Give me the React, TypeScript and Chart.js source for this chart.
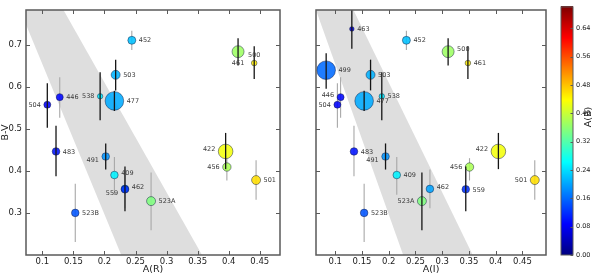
import React, { useEffect, useRef } from "react";
import { Chart, registerables } from "chart.js";

Chart.register(...registerables);

// ---- data ----
const ids = ["452", "503", "538", "477", "504", "446", "483", "491", "409", "462", "559", "523A", "523B", "422", "456", "501", "500", "461", "463", "499"];
const bv = [0.71, 0.628, 0.577, 0.566, 0.557, 0.575, 0.446, 0.434, 0.39, 0.357, 0.356, 0.328, 0.3, 0.446, 0.409, 0.378, 0.683, 0.656, 0.737, 0.639];
const bvLo = [0.687, 0.591, 0.52, 0.542, 0.502, 0.526, 0.387, 0.403, 0.343, 0.311, 0.304, 0.259, 0.231, 0.404, 0.377, 0.331, 0.65, 0.618, 0.69, 0.595];
const bvHi = [0.733, 0.664, 0.634, 0.59, 0.608, 0.622, 0.507, 0.465, 0.433, 0.403, 0.41, 0.396, 0.369, 0.49, 0.43, 0.425, 0.715, 0.696, 0.79, 0.679];
const aR = [0.244, 0.218, 0.193, 0.216, 0.108, 0.128, 0.122, 0.202, 0.216, 0.233, 0.233, 0.275, 0.153, 0.395, 0.397, 0.444, 0.415, 0.441, null, null];
const aI = [0.233, 0.166, 0.187, 0.154, 0.104, 0.11, 0.135, 0.194, 0.215, 0.277, 0.344, 0.262, 0.154, 0.405, 0.351, 0.473, 0.311, 0.348, 0.131, 0.083];
const aB = [0.22, 0.21, 0.25, 0.205, 0.085, 0.09, 0.1, 0.19, 0.255, 0.2, 0.12, 0.35, 0.145, 0.43, 0.38, 0.46, 0.37, 0.45, 0.07, 0.16];
const size = [4, 4.5, 2.7, 9.3, 3.5, 3.5, 3.8, 3.8, 3.8, 3.8, 3.8, 4.5, 3.8, 7.3, 4.2, 4.5, 6, 2.8, 2.3, 9.3];
const labelsR = ["452", "503", "538", "477", "504", "446", "483", "491", "409", "462", "559", "523A", "523B", "422", "456", "501", "461", "500", "463", "499"];
const labelsI = ids;

const bandX = [0.064, 0.134, 0.357, 0.227];
const bandY = [0.782, 0.782, 0.2, 0.2];

const xTicks = [0.1, 0.15, 0.2, 0.25, 0.3, 0.35, 0.4, 0.45];
const yTicks = [0.3, 0.4, 0.5, 0.6, 0.7];
const cbTicks = [0, 0.08, 0.16, 0.24, 0.32, 0.4, 0.48, 0.56, 0.64];
const cbMax = 0.7;

// ---- styles ----
const placeR = ["r", "r", "l", "r", "l", "r", "r", "lb", "ra", "ra", "lb", "r", "r", "la", "l", "r", "b", "a", "r", "r"];
const placeI = ["r", "r", "r", "r", "l", "la", "r", "lb", "r", "ra", "r", "l", "r", "la", "l", "l", "ra", "r", "r", "r"];
const darkR = [false, true, true, true, true, false, true, true, false, false, true, false, false, true, false, false, true, true, true, true];
const darkI = [false, true, true, true, false, false, false, true, false, false, true, true, false, true, false, false, true, true, true, true];

const FONT = "'DejaVu Sans', sans-serif";
const FRAME = "#5a5a5a";

function clamp(v: number) {
  return Math.max(0, Math.min(1, v));
}
function jetRGB(t: number) {
  t = clamp(t);
  return [
    clamp(1.5 - Math.abs(4 * t - 3)),
    clamp(1.5 - Math.abs(4 * t - 2)),
    clamp(1.5 - Math.abs(4 * t - 1)),
  ].map((c) => Math.round(c * 255));
}
function jet(t: number, alpha = 1) {
  const [r, g, b] = jetRGB(t);
  return `rgba(${r},${g},${b},${alpha})`;
}

function drawErr(chart: any, dark: boolean) {
  const o = chart.options.plugins.panel;
  const { ctx, scales } = chart;
  o.xs.forEach((xv: number | null, i: number) => {
    if (xv == null || o.dark[i] !== dark) return;
    const px = scales.x.getPixelForValue(xv);
    ctx.beginPath();
    ctx.moveTo(px, scales.y.getPixelForValue(bvLo[i]));
    ctx.lineTo(px, scales.y.getPixelForValue(bvHi[i]));
    ctx.strokeStyle = dark ? "#151515" : "#a8a8a8";
    ctx.lineWidth = dark ? 1.3 : 1.1;
    ctx.stroke();
  });
}

const panelPlugin = {
  id: "panel",
  beforeDatasetsDraw(chart: any) {
    const { ctx, chartArea: a, scales } = chart;
    ctx.save();
    ctx.beginPath();
    ctx.rect(a.left, a.top, a.right - a.left, a.bottom - a.top);
    ctx.clip();
    ctx.beginPath();
    bandX.forEach((bx, i) => {
      const px = scales.x.getPixelForValue(bx);
      const py = scales.y.getPixelForValue(bandY[i]);
      if (i === 0) ctx.moveTo(px, py);
      else ctx.lineTo(px, py);
    });
    ctx.closePath();
    ctx.fillStyle = "#dedede";
    ctx.fill();
    drawErr(chart, false);
    ctx.restore();
  },
  afterDatasetsDraw(chart: any) {
    const o = chart.options.plugins.panel;
    const { ctx, chartArea: a, scales } = chart;
    ctx.save();
    ctx.beginPath();
    ctx.rect(a.left, a.top, a.right - a.left, a.bottom - a.top);
    ctx.clip();
    drawErr(chart, true);
    ctx.restore();
    ctx.save();
    ctx.font = `6.5px ${FONT}`;
    ctx.fillStyle = "#3a3a3a";
    o.xs.forEach((xv: number | null, i: number) => {
      if (xv == null) return;
      const px = scales.x.getPixelForValue(xv);
      const py = scales.y.getPixelForValue(bv[i]);
      const r = size[i];
      const p = o.place[i];
      const gap = 3;
      let tx = px, ty = py;
      ctx.textBaseline = "middle";
      if (p[0] === "r") {
        ctx.textAlign = "left";
        tx = px + r + gap;
      } else if (p[0] === "l") {
        ctx.textAlign = "right";
        tx = px - r - gap;
      } else if (p === "a") {
        ctx.textAlign = "center";
        ty = py - r - 5;
      } else if (p === "b") {
        ctx.textAlign = "center";
        ty = py + r + 5;
      }
      if (p.length > 1 && p[1] === "a") ty -= 2.5;
      if (p.length > 1 && p[1] === "b") ty += 3;
      ctx.fillText(o.labels[i], tx, ty + 0.5);
    });
    ctx.restore();
  },
  afterDraw(chart: any) {
    const { ctx, chartArea: a, scales } = chart;
    ctx.save();
    ctx.strokeStyle = FRAME;
    ctx.lineWidth = 1;
    const t = 4;
    xTicks.forEach((v) => {
      const px = Math.round(scales.x.getPixelForValue(v)) + 0.5;
      ctx.beginPath();
      ctx.moveTo(px, a.bottom);
      ctx.lineTo(px, a.bottom - t);
      ctx.moveTo(px, a.top);
      ctx.lineTo(px, a.top + t);
      ctx.stroke();
    });
    yTicks.forEach((v) => {
      const py = Math.round(scales.y.getPixelForValue(v)) + 0.5;
      ctx.beginPath();
      ctx.moveTo(a.left, py);
      ctx.lineTo(a.left + t, py);
      ctx.moveTo(a.right, py);
      ctx.lineTo(a.right - t, py);
      ctx.stroke();
    });
    ctx.lineWidth = 1.5;
    ctx.strokeRect(a.left, a.top, a.right - a.left, a.bottom - a.top);
    ctx.restore();
  },
};

function makePanel(canvas: HTMLCanvasElement, xs: (number | null)[], xmin: number, xmax: number, xTitle: string, showY: boolean, labels: string[], place: string[], dark: boolean[], pad: any) {
  const pts: any[] = [];
  const cols: string[] = [];
  xs.forEach((xv, i) => {
    if (xv == null) return;
    pts.push({ x: xv, y: bv[i], r: size[i] });
    cols.push(jet(aB[i] / cbMax, 0.88));
  });
  const tickFont = { family: FONT, size: 8.5 };
  return new Chart(canvas, {
    type: "bubble",
    data: {
      datasets: [
        {
          data: pts,
          backgroundColor: cols,
          borderColor: "rgba(10,20,60,0.65)",
          borderWidth: 0.7,
        },
      ],
    },
    options: {
      responsive: false,
      animation: false,
      events: [],
      layout: { padding: pad },
      plugins: {
        legend: { display: false },
        tooltip: { enabled: false },
        panel: { xs, labels, place, dark },
      } as any,
      scales: {
        x: {
          type: "linear",
          min: xmin,
          max: xmax,
          grid: { display: false, drawTicks: false },
          border: { display: false },
          afterBuildTicks: (s: any) => {
            s.ticks = xTicks.map((v) => ({ value: v }));
          },
          afterFit: (s: any) => {
            s.height = 20;
          },
          ticks: {
            padding: 2,
            color: "#222",
            font: tickFont,
            maxRotation: 0,
            autoSkip: false,
            callback: (v: any) => String(parseFloat(Number(v).toFixed(2))),
          },
          title: { display: true, text: xTitle, color: "#222", font: { family: FONT, size: 9.5 }, padding: { top: 0, bottom: 0 } },
        },
        y: {
          type: "linear",
          display: showY,
          min: 0.2,
          max: 0.782,
          grid: { display: false, drawTicks: false },
          border: { display: false },
          afterBuildTicks: (s: any) => {
            s.ticks = yTicks.map((v) => ({ value: v }));
          },
          afterFit: (s: any) => {
            s.width = 26;
          },
          ticks: {
            padding: 4,
            color: "#222",
            font: tickFont,
            autoSkip: false,
            callback: (v: any) => Number(v).toFixed(1),
          },
          title: { display: true, text: "B-V", color: "#222", font: { family: FONT, size: 9.5 }, padding: { top: 0, bottom: 0 } },
        },
      },
    },
    plugins: [panelPlugin],
  } as any);
}

const cbPlugin = {
  id: "cb",
  beforeDatasetsDraw(chart: any) {
    const { ctx, chartArea: a, scales } = chart;
    ctx.save();
    for (let py = Math.floor(a.top); py < a.bottom; py++) {
      const v = scales.y.getValueForPixel(py + 0.5);
      ctx.fillStyle = jet(v / cbMax);
      ctx.fillRect(a.left, py, a.right - a.left, 1);
    }
    ctx.restore();
  },
  afterDraw(chart: any) {
    const { ctx, chartArea: a, scales } = chart;
    ctx.save();
    ctx.strokeStyle = FRAME;
    ctx.lineWidth = 1;
    cbTicks.forEach((v) => {
      const py = Math.round(scales.y.getPixelForValue(v)) + 0.5;
      ctx.beginPath();
      ctx.moveTo(a.right, py);
      ctx.lineTo(a.right - 2.5, py);
      ctx.stroke();
    });
    ctx.strokeRect(a.left, a.top, a.right - a.left, a.bottom - a.top);
    ctx.translate(33, 117);
    ctx.rotate(-Math.PI / 2);
    ctx.font = `9.5px ${FONT}`;
    ctx.fillStyle = "#222";
    ctx.textAlign = "center";
    ctx.textBaseline = "middle";
    ctx.fillText("A(B)", 0, 0);
    ctx.restore();
  },
};

function makeColorbar(canvas: HTMLCanvasElement) {
  return new Chart(canvas, {
    type: "scatter",
    data: { datasets: [{ data: [] }] },
    options: {
      responsive: false,
      animation: false,
      events: [],
      layout: { padding: { left: 5, top: 2, bottom: 20, right: 0 } },
      plugins: { legend: { display: false }, tooltip: { enabled: false } },
      scales: {
        x: { display: false, min: 0, max: 1 },
        y: {
          type: "linear",
          position: "right",
          min: 0,
          max: cbMax,
          grid: { display: false, drawTicks: false },
          border: { display: false },
          afterBuildTicks: (s: any) => {
            s.ticks = cbTicks.map((v) => ({ value: v }));
          },
          afterFit: (s: any) => {
            s.width = 27;
          },
          ticks: {
            padding: 3,
            color: "#222",
            font: { family: FONT, size: 6.5 },
            autoSkip: false,
            callback: (v: any) => Number(v).toFixed(2),
          },
        },
      },
    },
    plugins: [cbPlugin],
  } as any);
}

export default function App() {
  const leftRef = useRef<HTMLCanvasElement>(null);
  const rightRef = useRef<HTMLCanvasElement>(null);
  const cbRef = useRef<HTMLCanvasElement>(null);

  useEffect(() => {
    const c1 = makePanel(leftRef.current!, aR, 0.0737, 0.4825, "A(R)", true, labelsR, placeR, darkR, { top: 2, left: 0, right: 0, bottom: 0 });
    const c2 = makePanel(rightRef.current!, aI, 0.064, 0.494, "A(I)", false, labelsI, placeI, darkI, { top: 2, left: 6, right: 2, bottom: 0 });
    const c3 = makeColorbar(cbRef.current!);
    return () => {
      c1.destroy();
      c2.destroy();
      c3.destroy();
    };
  }, []);

  return (
    <div style={{ position: "fixed", left: 0, top: 0, width: 600, height: 275, background: "#fff", overflow: "hidden" }}>
      <canvas ref={leftRef} width={290} height={275} style={{ position: "absolute", left: 0, top: 0 }} />
      <canvas ref={rightRef} width={272} height={275} style={{ position: "absolute", left: 284, top: 0 }} />
      <canvas ref={cbRef} width={44} height={275} style={{ position: "absolute", left: 556, top: 0 }} />
    </div>
  );
}
